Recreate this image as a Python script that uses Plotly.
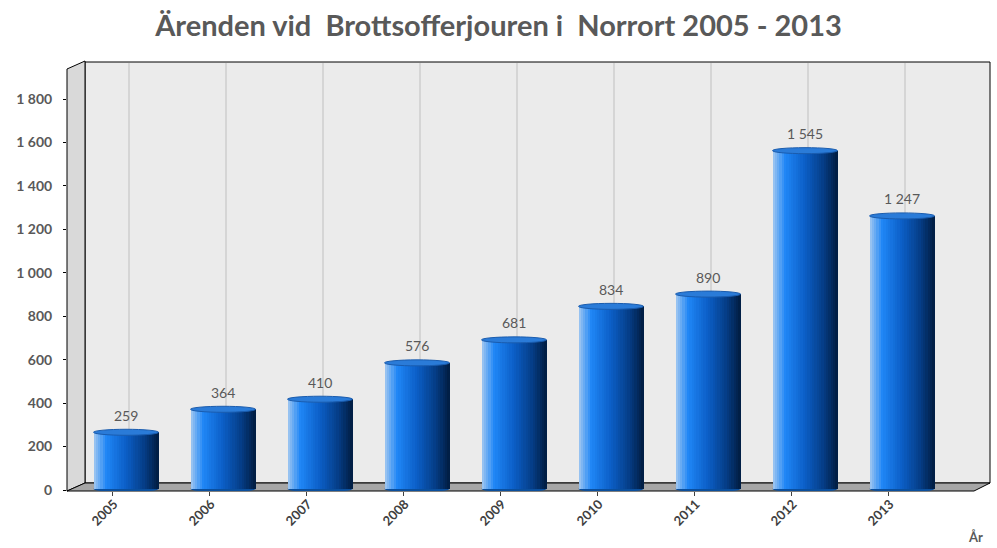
import plotly.graph_objects as go

# ---- data ----
years = ["2005", "2006", "2007", "2008", "2009", "2010", "2011", "2012", "2013"]
cases = [259, 364, 410, 576, 681, 834, 890, 1545, 1247]
y_ticks = [0, 200, 400, 600, 800, 1000, 1200, 1400, 1600, 1800]

title_text = "Ärenden vid  Brottsofferjouren i  Norrort 2005 - 2013"
x_title = "År"

# ---- layout geometry (pixels) ----
W, H = 997, 548
L, R, T, B = 67, 990, 62, 491
PW, PH = R - L, B - T


def px(x):
    return (x - L) / PW


def py(y):
    return (B - y) / PH


FONT = "Lato"
GRAY = "#595959"

xs = list(range(len(years)))
bar_w = 0.67
cat_px = 97.0
x_left = -(126 - L) / cat_px
x_right = (len(years) - 1) + (R - 902) / cat_px
tick_shift = 14 / cat_px
# bar plane scale
scale = 0.219
zero_px = 489.0
y_min = -(B - zero_px) / scale
y_max = (zero_px - T) / scale
# front (tick) plane scale
scale2 = 391 / 1800
zero2 = 490.0
y2_min = -(B - zero2) / scale2
y2_max = (zero2 - T) / scale2


def lerp(c1, c2, t):
    a = [int(c1[i:i + 2], 16) for i in (1, 3, 5)]
    b = [int(c2[i:i + 2], 16) for i in (1, 3, 5)]
    return "#" + "".join(f"{round(a[k] + (b[k] - a[k]) * t):02x}" for k in range(3))


stops = [(0.0, "#a2c8f0"), (0.2, "#1f86f6"), (0.5, "#0b5ec6"), (0.78, "#053d86"), (1.0, "#011c40")]


def grad(t):
    for (t0, c0), (t1, c1) in zip(stops[:-1], stops[1:]):
        if t <= t1:
            return lerp(c0, c1, (t - t0) / (t1 - t0))
    return stops[-1][1]


fig = go.Figure()

N = 28
sw = bar_w / N
for k in range(N):
    t = (k + 0.5) / N
    fig.add_trace(go.Bar(
        x=xs, y=cases,
        width=sw * 1.3 if k < N - 1 else sw,
        offset=-bar_w / 2 + k * sw,
        marker=dict(color=grad(t), line=dict(width=0)),
        hoverinfo="skip" if k else "y",
        showlegend=False,
    ))

# invisible trace carrying the front-plane value axis and category tick axis
fig.add_trace(go.Scatter(x=xs, y=cases, xaxis="x2", yaxis="y2", mode="markers",
                         marker=dict(opacity=0), hoverinfo="skip", showlegend=False))

shapes = []
# back wall
shapes.append(dict(type="rect", xref="paper", yref="paper",
                   x0=px(85), x1=px(R), y0=py(483), y1=py(T),
                   fillcolor="#ebebeb", line=dict(color="black", width=1), layer="below"))
# side wall
shapes.append(dict(type="path", xref="paper", yref="paper",
                   path=f"M {px(67)} {py(69)} L {px(85)} {py(61)} L {px(85)} {py(483)} L {px(67)} {py(491)} Z",
                   fillcolor="#d9d9d9", line=dict(color="black", width=1), layer="below"))
# floor
shapes.append(dict(type="path", xref="paper", yref="paper",
                   path=f"M {px(67)} {py(491)} L {px(85)} {py(483)} L {px(990)} {py(483)} L {px(974)} {py(491)} Z",
                   fillcolor="#a6a6a6", line=dict(color="black", width=1), layer="below"))
# gridlines on back wall
for x in xs:
    shapes.append(dict(type="line", xref="x", yref="paper", xsizemode="pixel", xanchor=x,
                       x0=3, x1=3, y0=py(483), y1=py(T + 1),
                       line=dict(color="#bfbfbf", width=1), layer="below"))
# cylinder bottoms and tops
for x, v in zip(xs, cases):
    shapes.append(dict(type="circle", xref="x", yref="y", ysizemode="pixel", yanchor=0,
                       x0=x - bar_w / 2, x1=x + bar_w / 2, y0=-3, y1=3,
                       fillcolor="#0a4f9e", line=dict(width=0), layer="below"))
    shapes.append(dict(type="circle", xref="x", yref="y", ysizemode="pixel", yanchor=v,
                       x0=x - bar_w / 2, x1=x + bar_w / 2, y0=-3, y1=3,
                       fillcolor="#2a7bd8", line=dict(color="#1a5cae", width=1), layer="above"))

annotations = []
for x, v in zip(xs, cases):
    annotations.append(dict(x=x, y=v, xref="x", yref="y", yshift=17, showarrow=False,
                            xanchor="center", yanchor="middle",
                            text=f"{v:,}".replace(",", " "),
                            font=dict(family=FONT, size=14, color=GRAY)))
annotations.append(dict(x=px(975), y=py(537), xref="paper", yref="paper", showarrow=False,
                        xanchor="center", yanchor="middle",
                        text=f"<b>{x_title}</b>", font=dict(family=FONT, size=13, color=GRAY)))

fig.update_layout(
    width=W, height=H,
    margin=dict(l=L, r=W - R, t=T, b=H - B, pad=0),
    paper_bgcolor="white", plot_bgcolor="rgba(0,0,0,0)",
    barmode="overlay", bargap=0,
    separators=", ",
    title=dict(text=f"<b>{title_text}</b>", x=0.5, xref="container", xanchor="center",
               y=1 - 26 / H, yanchor="middle", yref="container",
               font=dict(family=FONT, size=29, color=GRAY)),
    shapes=shapes,
    annotations=annotations,
    showlegend=False,
    xaxis=dict(range=[x_left, x_right], tickvals=xs, ticktext=years, tickangle=-45,
               ticklabelshift=-12, ticklabelstandoff=2,
               showgrid=False, zeroline=False, showline=False, ticks="",
               tickfont=dict(family=FONT, size=13, color="#404040", weight="bold")),
    xaxis2=dict(range=[x_left + tick_shift, x_right + tick_shift], overlaying="x",
                anchor="y2", side="bottom", tickvals=xs, showticklabels=False,
                ticks="outside", ticklen=4, tickcolor="#404040",
                showgrid=False, zeroline=False, showline=False),
    yaxis=dict(range=[y_min, y_max], showticklabels=False, ticks="",
               showgrid=False, zeroline=False, showline=False),
    yaxis2=dict(range=[y2_min, y2_max], overlaying="y", side="left", anchor="x2",
                tickvals=y_ticks, tickformat=",d", ticklabelstandoff=8,
                showgrid=False, zeroline=False, showline=False,
                ticks="outside", ticklen=3, tickcolor="black",
                tickfont=dict(family=FONT, size=14, color=GRAY, weight="bold")),
)

fig.write_html("out.html", config={"displayModeBar": False},
               post_script="document.body.style.margin='0';document.body.style.overflow='hidden';")
